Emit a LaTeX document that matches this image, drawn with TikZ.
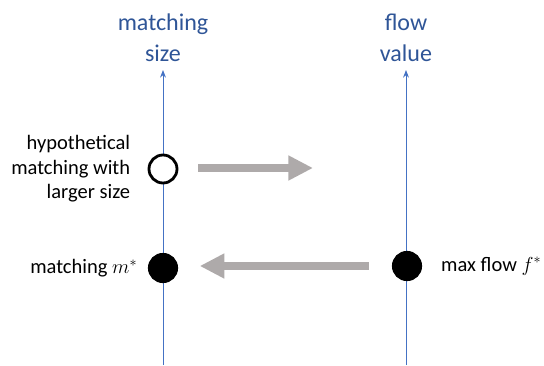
\documentclass[tikz,border=0pt]{standalone}
\usepackage{fontspec}
\setmainfont{Carlito}
\usepackage{xcolor}
\usetikzlibrary{arrows.meta,positioning}
\definecolor{titleblue}{HTML}{2F5597}
\definecolor{axisblue}{HTML}{4472C4}
\definecolor{arrowgray}{HTML}{AEAAAA}

\begin{document}
\begin{tikzpicture}[x=0.03cm,y=-0.03cm,
  ttl/.style={align=center,text=titleblue,font=\fontsize{20.5}{26.5}\selectfont},
  lbl/.style={font=\fontsize{17.5}{21}\selectfont},
  axis/.style={draw=axisblue,line width=0.8pt,-{Stealth[length=6.5pt,width=5pt]}},
  dot/.style={circle,draw=black,line width=2.4pt,inner sep=0pt,minimum size=0.84cm},
  big/.style={draw=arrowgray,line width=7pt,-{Triangle[length=21pt,width=20pt]}}]
\useasboundingbox (0,0) rectangle (544,365);
% the two axes
\coordinate (mbot) at (163,365);
\coordinate (mtop) at (163,70);
\coordinate (fbot) at (406,365);
\coordinate (ftop) at (406,70);
\draw[axis] (mbot) -- (mtop);
\draw[axis] (fbot) -- (ftop);
\node[ttl] (msize) at (163,38) {matching\\size};
\node[ttl] (fval) at (406,38) {flow\\value};
% points on the axes
\node[dot,fill=white] (hyp) at (163,169) {};
\node[dot,fill=black,minimum size=0.82cm] (mstar) at (163,268) {};
\node[dot,fill=black,minimum size=0.82cm] (fstar) at (407,266) {};
\node[lbl,align=right,left=0.4cm of hyp] (hyplbl) {hypothetical\\matching with\\larger size};
\node[lbl,left=0.2cm of mstar] (mlbl) {matching $m^*$};
\node[lbl,right=0.45cm of fstar] (flbl) {max flow $f^*$};
% gray arrows
\coordinate (hypend) at (313,168);
\draw[big] ([xshift=0.6cm]hyp.east |- hypend) -- (hypend);
\draw[big] ([xshift=-0.7cm]fstar.west) -- ([xshift=0.65cm]mstar.east |- fstar);
\end{tikzpicture}
\end{document}
